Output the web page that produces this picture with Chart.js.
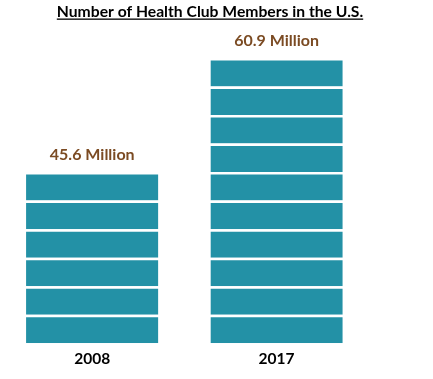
<!DOCTYPE html>
<html>
<head>
<meta charset="utf-8">
<script src="https://cdn.jsdelivr.net/npm/chart.js@4/dist/chart.umd.min.js"></script>
<style>
  html, body { margin: 0; padding: 0; background: #ffffff; }
  #wrap { width: 433px; height: 379px; position: relative; }
</style>
</head>
<body>
<div id="wrap"><canvas id="c" width="433" height="379"></canvas></div>
<script>
// ---- data ----
const titleText = 'Number of Health Club Members in the U.S.';
const categories = ['2008', '2017'];
const memberValues = [45.6, 60.9];          // millions
const valueLabels = ['45.6 Million', '60.9 Million'];
const blockCounts = [6, 10];                 // pictograph blocks per bar

// ---- styles ----
const barColor = '#2391A6';
const labelColor = '#7B4B23';
const fontFamily = 'Lato, "Open Sans", sans-serif';

const maxBlocks = Math.max(...blockCounts);
const datasets = [];
for (let i = 0; i < maxBlocks; i++) {
  datasets.push({
    label: 'block ' + (i + 1),
    data: blockCounts.map(n => (i < n ? 1 : null)),
    backgroundColor: barColor,
    borderColor: '#ffffff',
    borderWidth: { top: 2.5, bottom: 0, left: 0, right: 0 },
    borderSkipped: false,
    inflateAmount: 0,
    categoryPercentage: 1,
    barPercentage: 0.7175,
    stack: 's'
  });
}

const titlePlugin = {
  id: 'underlinedTitle',
  afterDraw(chart) {
    const ctx = chart.ctx;
    ctx.save();
    ctx.font = '700 15.7px ' + fontFamily;
    ctx.fillStyle = '#000000';
    ctx.textAlign = 'center';
    ctx.textBaseline = 'alphabetic';
    const cx = 210, by = 16.5;
    ctx.fillText(titleText, cx, by);
    const w = ctx.measureText(titleText).width;
    ctx.fillRect(cx - w / 2, by + 2, w, 1.3);
    ctx.restore();
  }
};

const valueLabelPlugin = {
  id: 'valueLabels',
  afterDatasetsDraw(chart) {
    const ctx = chart.ctx;
    ctx.save();
    ctx.font = '700 16px ' + fontFamily;
    ctx.fillStyle = labelColor;
    ctx.textAlign = 'center';
    ctx.textBaseline = 'alphabetic';
    categories.forEach((cat, j) => {
      const meta = chart.getDatasetMeta(blockCounts[j] - 1);
      const el = meta.data[j];
      ctx.fillText(valueLabels[j], el.x, el.y - 12);
    });
    ctx.restore();
  }
};

new Chart(document.getElementById('c'), {
  type: 'bar',
  data: { labels: categories, datasets },
  options: {
    responsive: false,
    animation: false,
    devicePixelRatio: 1,
    layout: { padding: { top: 29.5, left: 0, right: 64.2, bottom: 4 } },
    plugins: { legend: { display: false }, tooltip: { enabled: false }, title: { display: false } },
    scales: {
      x: {
        stacked: true,
        grid: { display: false, drawTicks: false },
        border: { display: false },
        ticks: { color: '#000000', font: { family: fontFamily, size: 15.5, weight: '700' }, padding: 6.6 }
      },
      y: {
        stacked: true,
        display: false,
        min: 0,
        max: maxBlocks + 1
      }
    }
  },
  plugins: [titlePlugin, valueLabelPlugin]
});
</script>
</body>
</html>
